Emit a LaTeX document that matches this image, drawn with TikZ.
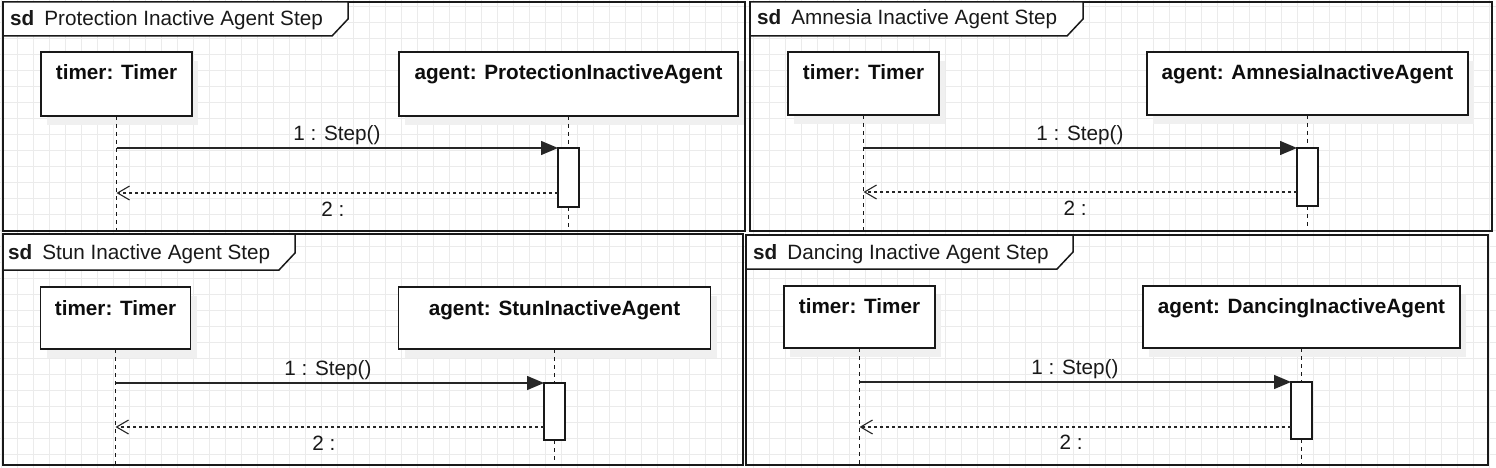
\documentclass[tikz,border=0pt]{standalone}
\usepackage{fontspec}
\setmainfont{Liberation Sans}
\usetikzlibrary{arrows.meta,shadows}
\begin{document}
\begin{tikzpicture}[x=1pt,y=-1pt,
 gridline/.style={draw=black!8, line width=0.8pt},
 frm/.style={draw=black!90, line width=1.5pt, rectangle, inner sep=0pt, outer sep=0pt},
 hdr/.style={draw=black!90, line width=1.5pt, fill=white},
 lbox/.style={draw=black!90, line width=1.3pt, fill=white, rectangle, inner sep=0pt, outer sep=0pt,
   drop shadow={shadow xshift=6pt, shadow yshift=-9pt, fill=black!6, opacity=1}},
 act/.style={draw=black!90, line width=1.2pt, fill=white, rectangle, inner sep=0pt, outer sep=0pt, minimum width=21pt},
 life/.style={draw=black!90, line width=1.2pt, dash pattern=on 4pt off 4pt},
 msg/.style={draw=black!85, line width=1.3pt, -{Triangle[length=17pt,width=14pt]}},
 ret/.style={draw=black!85, line width=1.1pt, dash pattern=on 3pt off 3pt, -{Straight Barb[length=12pt,width=14pt]}},
 ttl/.style={anchor=base west, font=\fontsize{20.7}{24}\selectfont, text=black!90, inner sep=0pt},
 lbl/.style={anchor=base, font=\fontsize{20.7}{24}\selectfont, text=black!90, inner sep=0pt},
 bold/.style={anchor=base, font=\fontsize{20.7}{24}\selectfont\bfseries, text=black!95, inner sep=0pt},
]
\useasboundingbox (0,0) rectangle (1496,468);
\fill[white] (0,0) rectangle (1496,468);
\foreach \x in {1,17,...,1496} \draw[gridline] (\x,0) -- (\x,468);
\foreach \y in {6,22,...,468} \draw[gridline] (0,\y) -- (1496,\y);

% ---------- Frame 1 ----------
\node[frm, minimum width=742pt, minimum height=229pt] (f1) at (374,116.5) {};
\draw[hdr] (f1.north west) -- ++(345,0) -- ++(0,17) -- ++(-16,17) -- ++(-329,0) -- cycle;
\node[ttl] (s1) at (10,26) {\textbf{sd}\hspace{10pt}Protection Inactive Agent Step};
\node[lbox, minimum width=151pt, minimum height=64pt] (t1) at (116.5,84) {};
\node[bold] (tt1) at (116.5,80) {timer: Timer};
\node[lbox, minimum width=339pt, minimum height=64pt] (g1) at (568.5,84) {};
\node[bold] (gt1) at (568.5,80) {agent: ProtectionInactiveAgent};
\node[act, minimum height=59pt] (a1) at (568.5,177.5) {};
\draw[life] (t1.south) -- (t1.south |- f1.south);
\draw[life] (g1.south) -- (a1.north);
\draw[life] (a1.south) -- (a1.south |- f1.south);
\draw[msg] (t1.south |- a1.north west) -- (a1.north west);
\coordinate (r1) at (558,193);
\draw[ret] (r1) -- (t1.south |- r1);
\node[lbl] (m1) at (337,140) {1 : Step()};
\node[lbl] (n1) at (333,216) {2 :};

% ---------- Frame 2 ----------
\node[frm, minimum width=742pt, minimum height=229pt] (f2) at (1121,116.5) {};
\draw[hdr] (f2.north west) -- ++(333,0) -- ++(0,17) -- ++(-16,17) -- ++(-317,0) -- cycle;
\node[ttl] (s2) at (757,25) {\textbf{sd}\hspace{10pt}Amnesia Inactive Agent Step};
\node[lbox, minimum width=151pt, minimum height=63pt] (t2) at (863.5,83.5) {};
\node[bold] (tt2) at (863.5,80) {timer: Timer};
\node[lbox, minimum width=321pt, minimum height=63pt] (g2) at (1307.5,83.5) {};
\node[bold] (gt2) at (1307.5,80) {agent: AmnesiaInactiveAgent};
\node[act, minimum height=58pt] (a2) at (1307.5,177) {};
\draw[life] (t2.south) -- (t2.south |- f2.south);
\draw[life] (g2.south) -- (a2.north);
\draw[life] (a2.south) -- (a2.south |- f2.south);
\draw[msg] (t2.south |- a2.north west) -- (a2.north west);
\coordinate (r2) at (1297,192);
\draw[ret] (r2) -- (t2.south |- r2);
\node[lbl] (m2) at (1080,140) {1 : Step()};
\node[lbl] (n2) at (1075,215) {2 :};

% ---------- Frame 3 ----------
\node[frm, minimum width=740pt, minimum height=231pt] (f3) at (373,349.5) {};
\draw[hdr] (f3.north west) -- ++(292,0) -- ++(0,19) -- ++(-16,17) -- ++(-276,0) -- cycle;
\node[ttl] (s3) at (8,259) {\textbf{sd}\hspace{10pt}Stun Inactive Agent Step};
\node[lbox, minimum width=150pt, minimum height=62pt] (t3) at (115.5,318) {};
\node[bold] (tt3) at (115.5,315) {timer: Timer};
\node[lbox, minimum width=312pt, minimum height=62pt] (g3) at (554.5,318) {};
\node[bold] (gt3) at (554.5,315) {agent: StunInactiveAgent};
\node[act, minimum height=57pt] (a3) at (554.5,411.5) {};
\draw[life] (t3.south) -- (t3.south |- f3.south);
\draw[life] (g3.south) -- (a3.north);
\draw[life] (a3.south) -- (a3.south |- f3.south);
\draw[msg] (t3.south |- a3.north west) -- (a3.north west);
\coordinate (r3) at (544,427);
\draw[ret] (r3) -- (t3.south |- r3);
\node[lbl] (m3) at (328,375) {1 : Step()};
\node[lbl] (n3) at (324,450) {2 :};

% ---------- Frame 4 ----------
\node[frm, minimum width=742pt, minimum height=230pt] (f4) at (1117,350) {};
\draw[hdr] (f4.north west) -- ++(327,0) -- ++(0,17) -- ++(-16,17) -- ++(-311,0) -- cycle;
\node[ttl] (s4) at (753,259) {\textbf{sd}\hspace{10pt}Dancing Inactive Agent Step};
\node[lbox, minimum width=151pt, minimum height=62pt] (t4) at (859.5,317) {};
\node[bold] (tt4) at (859.5,313) {timer: Timer};
\node[lbox, minimum width=317pt, minimum height=62pt] (g4) at (1301.5,317) {};
\node[bold] (gt4) at (1301.5,313) {agent: DancingInactiveAgent};
\node[act, minimum height=57pt] (a4) at (1301.5,410.5) {};
\draw[life] (t4.south) -- (t4.south |- f4.south);
\draw[life] (g4.south) -- (a4.north);
\draw[life] (a4.south) -- (a4.south |- f4.south);
\draw[msg] (t4.south |- a4.north west) -- (a4.north west);
\coordinate (r4) at (1291,427);
\draw[ret] (r4) -- (t4.south |- r4);
\node[lbl] (m4) at (1075,374) {1 : Step()};
\node[lbl] (n4) at (1071,449) {2 :};
\end{tikzpicture}
\end{document}
